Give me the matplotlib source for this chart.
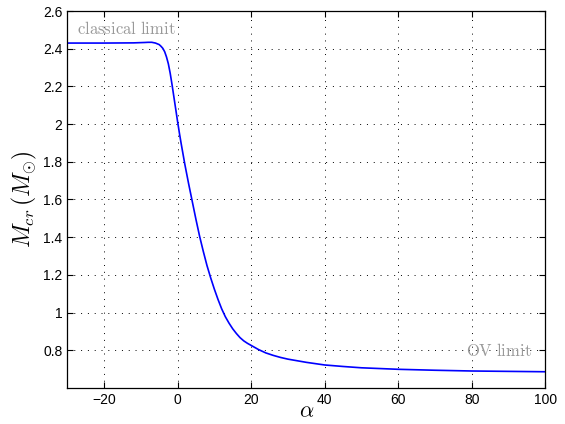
import numpy as np
import matplotlib
matplotlib.use("Agg")
import matplotlib.pyplot as plt

plt.rcParams['font.family'] = ['Liberation Sans', 'DejaVu Sans']
plt.rcParams['mathtext.fontset'] = 'cm'

# critical mass vs alpha
alpha = [-30, -20, -12, -9, -8, -7, -6, -5, -4.5, -4, -3.5, -3, -2.5, -2, -1.5,
         -1, -0.5, 0, 0.5, 1, 2, 3, 4, 5, 6, 7, 8, 9, 10, 11, 12, 13, 14, 15,
         16, 17, 18, 19, 20, 22, 24, 26, 28, 30, 35, 40, 45, 50, 60, 70, 80,
         90, 100]
m_cr = [2.430, 2.430, 2.431, 2.433, 2.434, 2.434, 2.430, 2.422, 2.413, 2.402,
        2.384, 2.356, 2.320, 2.270, 2.210, 2.145, 2.080, 2.015, 1.953, 1.895,
        1.785, 1.685, 1.590, 1.495, 1.405, 1.325, 1.250, 1.185, 1.125, 1.070,
        1.020, 0.978, 0.944, 0.914, 0.889, 0.867, 0.850, 0.837, 0.826, 0.804,
        0.786, 0.773, 0.762, 0.753, 0.736, 0.722, 0.714, 0.707, 0.699, 0.694,
        0.690, 0.688, 0.686]

xticks = [-20, 0, 20, 40, 60, 80, 100]
yticks = [0.8, 1, 1.2, 1.4, 1.6, 1.8, 2, 2.2, 2.4, 2.6]

fig = plt.figure(figsize=(5.65, 4.24), dpi=100)
ax = fig.add_axes([0.119, 0.085, 0.846, 0.889])

ax.plot(alpha, m_cr, color=(0, 0, 1), lw=1.2)

ax.set_xlim(-30, 100)
ax.set_ylim(0.6, 2.6)
ax.set_xticks(xticks)
ax.set_yticks(yticks)
ax.set_yticklabels([f"{v:g}" for v in yticks])
ax.tick_params(direction='in', top=True, right=True, labelsize=10, length=4, width=0.8)
ax.grid(True, linestyle=(0, (1, 6)), color='black', lw=0.7)
for s in ax.spines.values():
    s.set_linewidth(0.9)

ax.set_xlabel(r'$\alpha$', fontsize=16, labelpad=-4)
ax.set_ylabel(r'$M_{cr}\,(M_{\odot})$', fontsize=17, labelpad=3)

ax.text(-27.4, 2.48, r'$\mathrm{classical\ limit}$', color='0.6', fontsize=12,
        va='baseline', ha='left')
ax.text(96.3, 0.77, r'$\mathrm{OV\ limit}$', color='0.6', fontsize=12,
        va='baseline', ha='right')

fig.savefig('out.png', dpi=100)
